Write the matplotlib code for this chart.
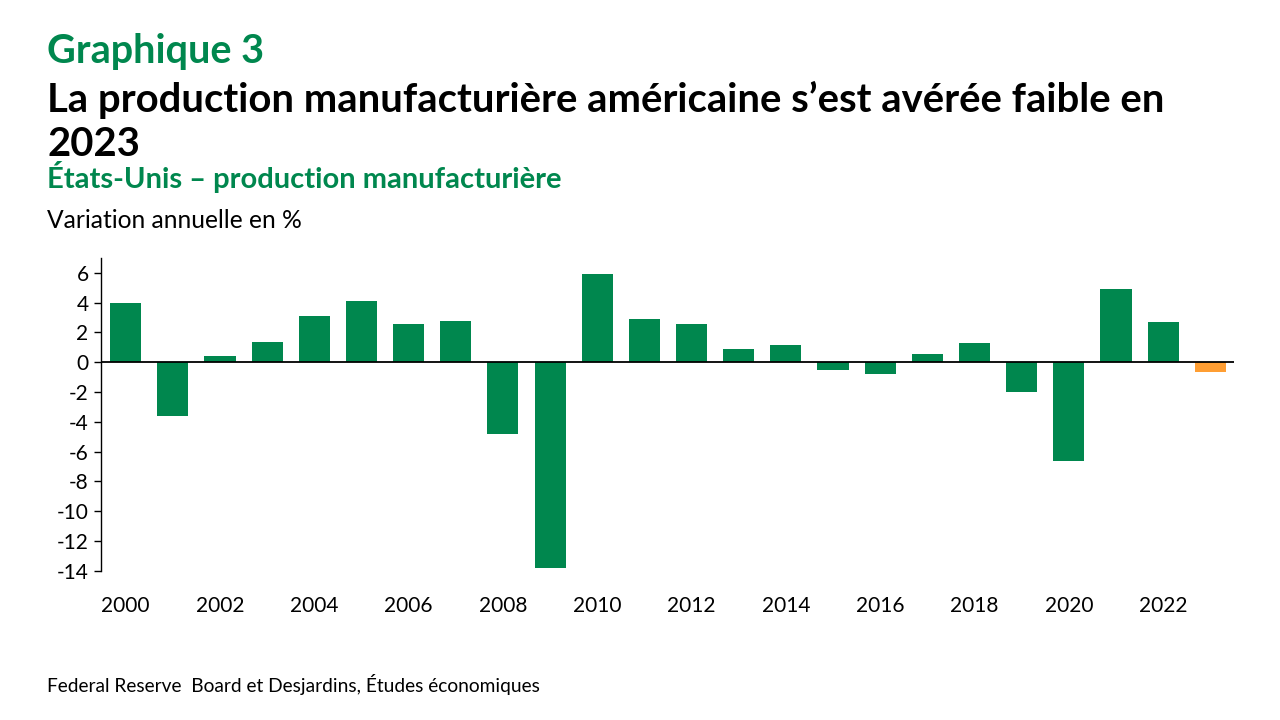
import matplotlib
matplotlib.use("Agg")
import matplotlib.pyplot as plt
import numpy as np

years = list(range(2000, 2024))
values = [4.0, -3.6, 0.4, 1.35, 3.1, 4.1, 2.55, 2.75, -4.8, -13.8, 5.9, 2.9,
          2.55, 0.9, 1.15, -0.5, -0.8, 0.55, 1.3, -2.0, -6.6, 4.9, 2.7, -0.65]
highlight_year = 2023
yticks = [6, 4, 2, 0, -2, -4, -6, -8, -10, -12, -14]
xtick_years = list(range(2000, 2023, 2))

GREEN = "#00874E"
ORANGE = "#FF9E33"
FONT = "Lato"

plt.rcParams['font.family'] = [FONT, 'DejaVu Sans']

fig = plt.figure(figsize=(12.8, 7.2), dpi=100)
ax = fig.add_axes([0.079, 0.207, 0.885, 0.435])

x = np.arange(len(years))
colors = [ORANGE if y == highlight_year else GREEN for y in years]
ax.bar(x, values, width=0.66, color=colors, zorder=2)

ax.set_xlim(-0.52, 23.5)
ax.set_ylim(-14, 7)
ax.axhline(0, color="black", lw=1.3, zorder=3)

ax.set_yticks(yticks)
ax.set_yticklabels([str(v) for v in yticks], fontsize=15)
ax.tick_params(axis='y', direction='out', length=5, width=1, pad=4)

ax.set_xticks([years.index(y) for y in xtick_years])
ax.set_xticklabels([str(y) for y in xtick_years], fontsize=15)
ax.tick_params(axis='x', length=0, pad=18)

for s in ['top', 'right', 'bottom']:
    ax.spines[s].set_visible(False)
ax.spines['left'].set_linewidth(1)

fig.text(0.037, 0.912, "Graphique 3", fontsize=28.5, fontweight='bold', color=GREEN)
fig.text(0.037, 0.845, "La production manufacturière américaine s’est avérée faible en",
         fontsize=28.8, fontweight='bold', color='black')
fig.text(0.037, 0.783, "2023", fontsize=28.8, fontweight='bold', color='black')
fig.text(0.037, 0.739, "États-Unis – production manufacturière", fontsize=21,
         fontweight='bold', color=GREEN)
fig.text(0.037, 0.683, "Variation annuelle en %", fontsize=17.7, color='black')
fig.text(0.037, 0.039, "Federal Reserve  Board et Desjardins, Études économiques",
         fontsize=13.8, color='black')

fig.savefig("out.png", dpi=100)
